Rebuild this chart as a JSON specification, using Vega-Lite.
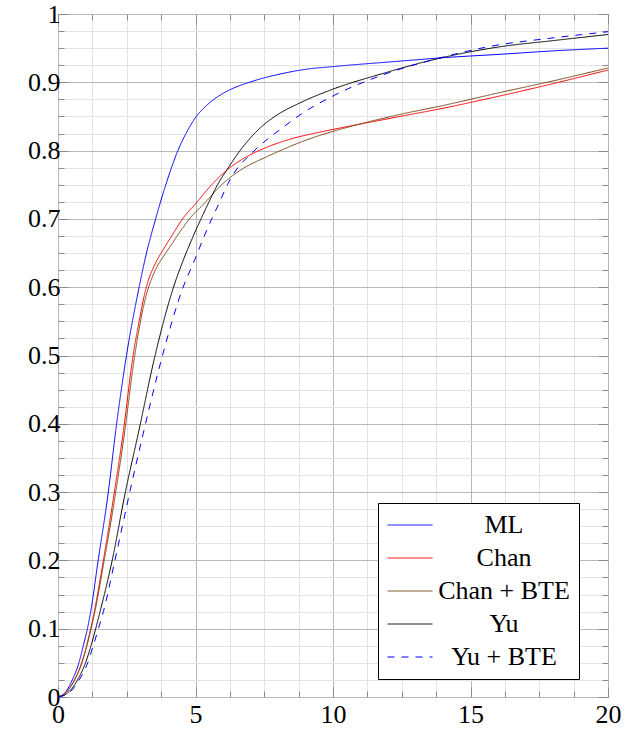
{
  "$schema": "https://vega.github.io/schema/vega-lite/v6.json",
  "width": 550,
  "height": 683,
  "autosize": {"type": "none"},
  "padding": {"left": 58, "top": 14, "right": 33, "bottom": 35},
  "background": "white",
  "config": {"view": {"stroke": "#000", "strokeWidth": 1}, "font": "Liberation Serif"},
  "datasets": {
    "curves": [
      {"series": "ML", "x": 0, "y": 0}, {"series": "ML", "x": 0.25, "y": 0.006}, {"series": "ML", "x": 0.52, "y": 0.025}, {"series": "ML", "x": 0.76, "y": 0.05}, {"series": "ML", "x": 0.92, "y": 0.075}, {"series": "ML", "x": 1.07, "y": 0.1}, {"series": "ML", "x": 1.19, "y": 0.125}, {"series": "ML", "x": 1.46, "y": 0.2}, {"series": "ML", "x": 1.83, "y": 0.3}, {"series": "ML", "x": 2.1, "y": 0.39}, {"series": "ML", "x": 2.49, "y": 0.5}, {"series": "ML", "x": 2.95, "y": 0.6}, {"series": "ML", "x": 3.16, "y": 0.64}, {"series": "ML", "x": 3.55, "y": 0.7}, {"series": "ML", "x": 3.92, "y": 0.75}, {"series": "ML", "x": 4.36, "y": 0.8}, {"series": "ML", "x": 4.72, "y": 0.83}, {"series": "ML", "x": 5.03, "y": 0.85}, {"series": "ML", "x": 5.4, "y": 0.866}, {"series": "ML", "x": 5.81, "y": 0.879}, {"series": "ML", "x": 6.3, "y": 0.89}, {"series": "ML", "x": 6.96, "y": 0.9}, {"series": "ML", "x": 8.18, "y": 0.913}, {"series": "ML", "x": 9, "y": 0.919}, {"series": "ML", "x": 10, "y": 0.923}, {"series": "ML", "x": 12.44, "y": 0.931}, {"series": "ML", "x": 14, "y": 0.936}, {"series": "ML", "x": 16.07, "y": 0.941}, {"series": "ML", "x": 18, "y": 0.946}, {"series": "ML", "x": 20, "y": 0.95},
      {"series": "Chan", "x": 0, "y": 0}, {"series": "Chan", "x": 0.3, "y": 0.007}, {"series": "Chan", "x": 0.6, "y": 0.025}, {"series": "Chan", "x": 0.86, "y": 0.05}, {"series": "Chan", "x": 1.04, "y": 0.075}, {"series": "Chan", "x": 1.19, "y": 0.1}, {"series": "Chan", "x": 1.32, "y": 0.125}, {"series": "Chan", "x": 1.65, "y": 0.2}, {"series": "Chan", "x": 2.05, "y": 0.3}, {"series": "Chan", "x": 2.38, "y": 0.39}, {"series": "Chan", "x": 2.73, "y": 0.5}, {"series": "Chan", "x": 2.95, "y": 0.55}, {"series": "Chan", "x": 3.15, "y": 0.59}, {"series": "Chan", "x": 3.3, "y": 0.612}, {"series": "Chan", "x": 3.45, "y": 0.627}, {"series": "Chan", "x": 3.65, "y": 0.643}, {"series": "Chan", "x": 3.9, "y": 0.66}, {"series": "Chan", "x": 4.15, "y": 0.676}, {"series": "Chan", "x": 4.53, "y": 0.7}, {"series": "Chan", "x": 5.04, "y": 0.724}, {"series": "Chan", "x": 5.59, "y": 0.75}, {"series": "Chan", "x": 6.13, "y": 0.771}, {"series": "Chan", "x": 6.86, "y": 0.791}, {"series": "Chan", "x": 7.6, "y": 0.805}, {"series": "Chan", "x": 8.55, "y": 0.818}, {"series": "Chan", "x": 9.4, "y": 0.826}, {"series": "Chan", "x": 10.25, "y": 0.833}, {"series": "Chan", "x": 12.44, "y": 0.85}, {"series": "Chan", "x": 14, "y": 0.862}, {"series": "Chan", "x": 16.07, "y": 0.88}, {"series": "Chan", "x": 18, "y": 0.898}, {"series": "Chan", "x": 20, "y": 0.918},
      {"series": "Chan + BTE", "x": 0, "y": 0}, {"series": "Chan + BTE", "x": 0.3, "y": 0.007}, {"series": "Chan + BTE", "x": 0.6, "y": 0.025}, {"series": "Chan + BTE", "x": 0.87, "y": 0.05}, {"series": "Chan + BTE", "x": 1.05, "y": 0.075}, {"series": "Chan + BTE", "x": 1.2, "y": 0.1}, {"series": "Chan + BTE", "x": 1.34, "y": 0.125}, {"series": "Chan + BTE", "x": 1.68, "y": 0.2}, {"series": "Chan + BTE", "x": 2.1, "y": 0.3}, {"series": "Chan + BTE", "x": 2.43, "y": 0.39}, {"series": "Chan + BTE", "x": 2.79, "y": 0.5}, {"series": "Chan + BTE", "x": 3.0, "y": 0.55}, {"series": "Chan + BTE", "x": 3.22, "y": 0.59}, {"series": "Chan + BTE", "x": 3.4, "y": 0.612}, {"series": "Chan + BTE", "x": 3.6, "y": 0.63}, {"series": "Chan + BTE", "x": 3.85, "y": 0.646}, {"series": "Chan + BTE", "x": 4.1, "y": 0.661}, {"series": "Chan + BTE", "x": 4.4, "y": 0.679}, {"series": "Chan + BTE", "x": 4.78, "y": 0.7}, {"series": "Chan + BTE", "x": 5.35, "y": 0.724}, {"series": "Chan + BTE", "x": 5.95, "y": 0.75}, {"series": "Chan + BTE", "x": 6.62, "y": 0.771}, {"series": "Chan + BTE", "x": 7.59, "y": 0.791}, {"series": "Chan + BTE", "x": 8.2, "y": 0.802}, {"series": "Chan + BTE", "x": 8.8, "y": 0.812}, {"series": "Chan + BTE", "x": 9.5, "y": 0.822}, {"series": "Chan + BTE", "x": 10.25, "y": 0.831}, {"series": "Chan + BTE", "x": 12.44, "y": 0.853}, {"series": "Chan + BTE", "x": 14, "y": 0.866}, {"series": "Chan + BTE", "x": 16.07, "y": 0.885}, {"series": "Chan + BTE", "x": 18, "y": 0.902}, {"series": "Chan + BTE", "x": 20, "y": 0.921},
      {"series": "Yu", "x": 0, "y": 0}, {"series": "Yu", "x": 0.35, "y": 0.006}, {"series": "Yu", "x": 0.71, "y": 0.025}, {"series": "Yu", "x": 1.0, "y": 0.05}, {"series": "Yu", "x": 1.2, "y": 0.075}, {"series": "Yu", "x": 1.37, "y": 0.1}, {"series": "Yu", "x": 1.53, "y": 0.125}, {"series": "Yu", "x": 1.97, "y": 0.2}, {"series": "Yu", "x": 2.45, "y": 0.3}, {"series": "Yu", "x": 2.92, "y": 0.386}, {"series": "Yu", "x": 3.53, "y": 0.5}, {"series": "Yu", "x": 4.2, "y": 0.6}, {"series": "Yu", "x": 4.56, "y": 0.64}, {"series": "Yu", "x": 4.92, "y": 0.675}, {"series": "Yu", "x": 5.2, "y": 0.7}, {"series": "Yu", "x": 5.48, "y": 0.724}, {"series": "Yu", "x": 5.8, "y": 0.75}, {"series": "Yu", "x": 6.13, "y": 0.771}, {"series": "Yu", "x": 6.62, "y": 0.8}, {"series": "Yu", "x": 7.4, "y": 0.835}, {"series": "Yu", "x": 8.0, "y": 0.853}, {"series": "Yu", "x": 8.7, "y": 0.868}, {"series": "Yu", "x": 10, "y": 0.89}, {"series": "Yu", "x": 11.82, "y": 0.913}, {"series": "Yu", "x": 13.64, "y": 0.933}, {"series": "Yu", "x": 16.07, "y": 0.952}, {"series": "Yu", "x": 18, "y": 0.961}, {"series": "Yu", "x": 20, "y": 0.97},
      {"series": "Yu + BTE", "x": 0, "y": 0}, {"series": "Yu + BTE", "x": 0.4, "y": 0.006}, {"series": "Yu + BTE", "x": 0.77, "y": 0.025}, {"series": "Yu + BTE", "x": 1.08, "y": 0.05}, {"series": "Yu + BTE", "x": 1.28, "y": 0.075}, {"series": "Yu + BTE", "x": 1.47, "y": 0.1}, {"series": "Yu + BTE", "x": 1.65, "y": 0.125}, {"series": "Yu + BTE", "x": 2.07, "y": 0.2}, {"series": "Yu + BTE", "x": 2.61, "y": 0.3}, {"series": "Yu + BTE", "x": 3.1, "y": 0.386}, {"series": "Yu + BTE", "x": 3.8, "y": 0.5}, {"series": "Yu + BTE", "x": 4.55, "y": 0.6}, {"series": "Yu + BTE", "x": 4.97, "y": 0.64}, {"series": "Yu + BTE", "x": 5.32, "y": 0.675}, {"series": "Yu + BTE", "x": 5.59, "y": 0.7}, {"series": "Yu + BTE", "x": 5.87, "y": 0.724}, {"series": "Yu + BTE", "x": 6.16, "y": 0.75}, {"series": "Yu + BTE", "x": 6.5, "y": 0.773}, {"series": "Yu + BTE", "x": 6.86, "y": 0.789}, {"series": "Yu + BTE", "x": 7.3, "y": 0.806}, {"series": "Yu + BTE", "x": 8.05, "y": 0.83}, {"series": "Yu + BTE", "x": 8.9, "y": 0.855}, {"series": "Yu + BTE", "x": 10.05, "y": 0.881}, {"series": "Yu + BTE", "x": 11.82, "y": 0.911}, {"series": "Yu + BTE", "x": 13.64, "y": 0.933}, {"series": "Yu + BTE", "x": 15.77, "y": 0.953}, {"series": "Yu + BTE", "x": 18, "y": 0.965}, {"series": "Yu + BTE", "x": 20, "y": 0.974}
    ]
  },
  "data": {"name": "curves"},
  "layer": [
    {
      "mark": {"type": "line", "interpolate": "monotone", "strokeWidth": 1},
      "encoding": {
        "x": {
          "field": "x", "type": "quantitative",
          "scale": {"domain": [0, 20], "nice": false, "zero": false},
          "axis": {
            "orient": "bottom", "title": null, "domain": false,
            "values": [0, 1.25, 2.5, 3.75, 5, 6.25, 7.5, 8.75, 10, 11.25, 12.5, 13.75, 15, 16.25, 17.5, 18.75, 20],
            "grid": true,
            "gridColor": {"condition": {"test": "datum.value % 5 === 0", "value": "#b8b8b8"}, "value": "#e3e3e3"},
            "gridWidth": 1,
            "ticks": true,
            "tickColor": "#8c8c8c",
            "tickSize": {"condition": {"test": "datum.value % 5 === 0", "value": -10}, "value": -6},
            "labelExpr": "datum.value % 5 === 0 ? format(datum.value, 'd') : ''",
            "labelFont": "Liberation Serif", "labelFontSize": 26, "labelColor": "#000",
            "labelPadding": 14, "labelFlush": false, "labelOverlap": false
          }
        },
        "y": {
          "field": "y", "type": "quantitative",
          "scale": {"domain": [0, 1], "nice": false, "zero": false},
          "axis": {
            "orient": "left", "title": null, "domain": false,
            "values": [0, 0.025, 0.05, 0.075, 0.1, 0.125, 0.15, 0.175, 0.2, 0.225, 0.25, 0.275, 0.3, 0.325, 0.35, 0.375, 0.4, 0.425, 0.45, 0.475, 0.5, 0.525, 0.55, 0.575, 0.6, 0.625, 0.65, 0.675, 0.7, 0.725, 0.75, 0.775, 0.8, 0.825, 0.85, 0.875, 0.9, 0.925, 0.95, 0.975, 1],
            "grid": true,
            "gridColor": {"condition": {"test": "abs(datum.value * 10 - round(datum.value * 10)) < 0.000001", "value": "#b8b8b8"}, "value": "#e3e3e3"},
            "gridWidth": 1,
            "ticks": true,
            "tickColor": "#8c8c8c",
            "tickSize": {"condition": {"test": "abs(datum.value * 10 - round(datum.value * 10)) < 0.000001", "value": -10}, "value": -6},
            "labelExpr": "abs(datum.value * 10 - round(datum.value * 10)) < 0.000001 ? (datum.value == 0 ? '0' : datum.value == 1 ? '1' : format(datum.value, '.1f')) : ''",
            "labelFont": "Liberation Serif", "labelFontSize": 26, "labelColor": "#000",
            "labelPadding": 8, "labelOverlap": false
          }
        },
        "color": {
          "field": "series", "type": "nominal",
          "scale": {"domain": ["ML", "Chan", "Chan + BTE", "Yu", "Yu + BTE"], "range": ["#0000ff", "#ff0000", "#7a4a1a", "#000000", "#0000ff"]},
          "legend": {
            "orient": "none", "legendX": 320, "legendY": 489, "title": null,
            "strokeColor": "#000", "fillColor": "#fff", "padding": 9,
            "labelFont": "Liberation Serif", "labelFontSize": 26, "labelColor": "#000",
            "labelAlign": "center", "labelOffset": 81, "labelLimit": 400,
            "symbolType": "M-2.5,0H2.5", "symbolSize": 324, "symbolOffset": 10, "symbolStrokeWidth": 1, "rowPadding": 7
          }
        },
        "strokeDash": {
          "field": "series", "type": "nominal",
          "scale": {"domain": ["ML", "Chan", "Chan + BTE", "Yu", "Yu + BTE"], "range": [[1, 0], [1, 0], [1, 0], [1, 0], [7, 7]]},
          "legend": {
            "orient": "none", "legendX": 320, "legendY": 489, "title": null,
            "strokeColor": "#000", "fillColor": "#fff", "padding": 9,
            "labelFont": "Liberation Serif", "labelFontSize": 26, "labelColor": "#000",
            "labelAlign": "center", "labelOffset": 81, "labelLimit": 400,
            "symbolType": "M-2.5,0H2.5", "symbolSize": 324, "symbolOffset": 10, "symbolStrokeWidth": 1, "rowPadding": 7
          }
        }
      }
    },
    {
      "mark": {"type": "point", "opacity": 0},
      "encoding": {
        "x": {
          "field": "x", "type": "quantitative",
          "axis": {
            "orient": "top", "title": null, "domain": false, "grid": false, "labels": false,
            "values": [0, 1.25, 2.5, 3.75, 5, 6.25, 7.5, 8.75, 10, 11.25, 12.5, 13.75, 15, 16.25, 17.5, 18.75, 20],
            "tickColor": "#8c8c8c",
            "tickSize": {"condition": {"test": "datum.value % 5 === 0", "value": -10}, "value": -6}
          }
        },
        "y": {
          "field": "y", "type": "quantitative",
          "axis": {
            "orient": "right", "title": null, "domain": false, "grid": false, "labels": false,
            "values": [0, 0.025, 0.05, 0.075, 0.1, 0.125, 0.15, 0.175, 0.2, 0.225, 0.25, 0.275, 0.3, 0.325, 0.35, 0.375, 0.4, 0.425, 0.45, 0.475, 0.5, 0.525, 0.55, 0.575, 0.6, 0.625, 0.65, 0.675, 0.7, 0.725, 0.75, 0.775, 0.8, 0.825, 0.85, 0.875, 0.9, 0.925, 0.95, 0.975, 1],
            "tickColor": "#8c8c8c",
            "tickSize": {"condition": {"test": "abs(datum.value * 10 - round(datum.value * 10)) < 0.000001", "value": -10}, "value": -6}
          }
        }
      }
    }
  ],
  "resolve": {"axis": {"x": "independent", "y": "independent"}}
}
